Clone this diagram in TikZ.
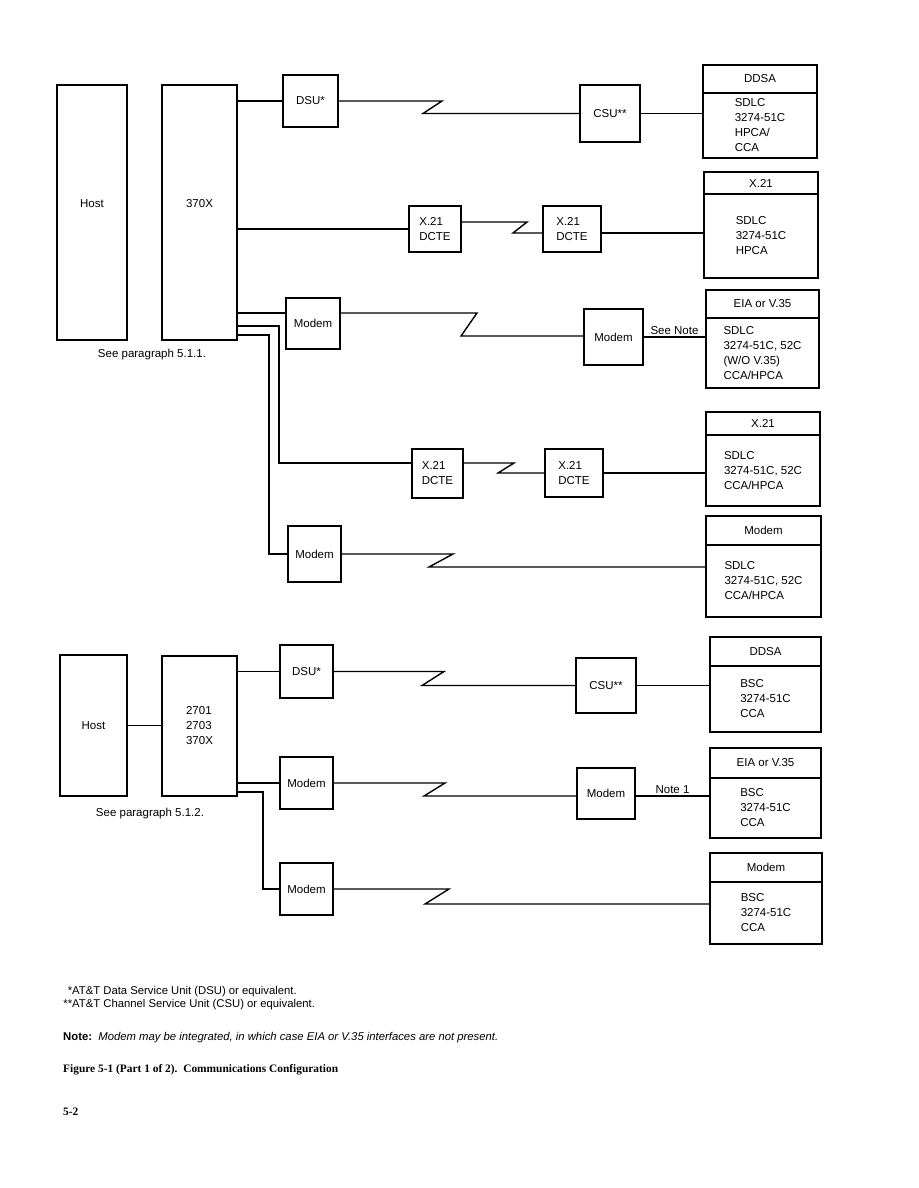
\documentclass[tikz,border=0pt]{standalone}
\usepackage{fontspec}
\setmainfont{Liberation Serif}
\setsansfont{Liberation Sans}
\usepackage{tikz}

\begin{document}
\begin{tikzpicture}[x=1pt, y=-1pt,
    every node/.style={font=\sffamily\fontsize{11.5}{15}\selectfont, inner sep=0pt},
    unit/.style={draw, line width=1.6pt, align=left},
    hdr/.style={draw, line width=1.6pt},
    body/.style={draw, line width=1.6pt, align=left},
    link/.style={line width=1.4pt},
    foot/.style={anchor=west, font=\sffamily\fontsize{11.3}{13}\selectfont}]
    \useasboundingbox (0,0) rectangle (918,1188);
    % first configuration
    \node (host1) [unit, minimum width=70pt, minimum height=255pt, text depth=18pt] at (92,212.5) {Host};
    \node (unit1) [unit, minimum width=75pt, minimum height=255pt, text depth=18pt] at (199.5,212.5) {370X};
    \node (see1) at (152,355) {See paragraph 5.1.1.};
    \node (dsuA) [unit, minimum width=55pt, minimum height=52pt] at (310.5,101) {DSU*};
    \node (csuA) [unit, minimum width=60pt, minimum height=57pt] at (610,113.5) {CSU**};
    \node (ddsaAh) [hdr, minimum width=114pt, minimum height=28pt] at (760,79) {DDSA};
    \node (ddsaAb) [body, minimum width=114pt, minimum height=65pt] at (760,125.5) {SDLC\\3274-51C\\HPCA/\\CCA};
    \node (dcteA) [unit, minimum width=52pt, minimum height=46pt] at (435,229) {X.21\\DCTE};
    \node (dcteB) [unit, minimum width=58pt, minimum height=46pt] at (572,229) {X.21\\DCTE};
    \node (x21Ah) [hdr, minimum width=114pt, minimum height=22pt] at (761,183) {X.21};
    \node (x21Ab) [body, minimum width=114pt, minimum height=84pt] at (761,236) {SDLC\\3274-51C\\HPCA};
    \node (modemA) [unit, minimum width=54pt, minimum height=51pt] at (313,323.5) {Modem};
    \node (modemB) [unit, minimum width=59pt, minimum height=56pt] at (613.5,337) {Modem};
    \node (eiaAh) [hdr, minimum width=113pt, minimum height=28pt] at (762.5,304) {EIA or V.35};
    \node (eiaAb) [body, minimum width=113pt, minimum height=70pt] at (762.5,353) {SDLC\\3274-51C, 52C\\(W/O V.35)\\CCA/HPCA};
    \node (dcteC) [unit, minimum width=51pt, minimum height=49pt] at (437.5,473.5) {X.21\\DCTE};
    \node (dcteD) [unit, minimum width=58pt, minimum height=48pt] at (574,473) {X.21\\DCTE};
    \node (x21Bh) [hdr, minimum width=114pt, minimum height=23pt] at (763,423.5) {X.21};
    \node (x21Bb) [body, minimum width=114pt, minimum height=71pt] at (763,470.5) {SDLC\\3274-51C, 52C\\CCA/HPCA};
    \node (modemC) [unit, minimum width=53pt, minimum height=56pt] at (314.5,554) {Modem};
    \node (modRAh) [hdr, minimum width=115pt, minimum height=29pt] at (763.5,530.5) {Modem};
    \node (modRAb) [body, minimum width=115pt, minimum height=72pt] at (763.5,581) {SDLC\\3274-51C, 52C\\CCA/HPCA};
    % second configuration
    \node (host2) [unit, minimum width=67pt, minimum height=141pt] at (93.5,725.5) {Host};
    \node (unit2) [unit, minimum width=75pt, minimum height=140pt] at (199.5,726) {2701\\2703\\370X};
    \node (see2) at (150,814) {See paragraph 5.1.2.};
    \node (dsuB) [unit, minimum width=53pt, minimum height=53pt] at (306.5,671.5) {DSU*};
    \node (csuB) [unit, minimum width=60pt, minimum height=55pt] at (606,685.5) {CSU**};
    \node (ddsaBh) [hdr, minimum width=111pt, minimum height=29pt] at (765.5,651.5) {DDSA};
    \node (ddsaBb) [body, minimum width=111pt, minimum height=66pt] at (765.5,699) {BSC\\3274-51C\\CCA};
    \node (modemD) [unit, minimum width=53pt, minimum height=52pt] at (306.5,783) {Modem};
    \node (modemE) [unit, minimum width=58pt, minimum height=51pt] at (606,793.5) {Modem};
    \node (eiaBh) [hdr, minimum width=111pt, minimum height=30pt] at (765.5,763) {EIA or V.35};
    \node (eiaBb) [body, minimum width=111pt, minimum height=60pt] at (765.5,808) {BSC\\3274-51C\\CCA};
    \node (modemF) [unit, minimum width=53pt, minimum height=52pt] at (306.5,889) {Modem};
    \node (modRBh) [hdr, minimum width=112pt, minimum height=29pt] at (766,867.5) {Modem};
    \node (modRBb) [body, minimum width=112pt, minimum height=62pt] at (766,913) {BSC\\3274-51C\\CCA};

    % line breaks and taps
    \coordinate (zA1) at (442,101);   \coordinate (zA2) at (423,113.5);
    \coordinate (zB1) at (527,222);   \coordinate (zB2) at (513,233);
    \coordinate (zC1) at (477,313);   \coordinate (zC2) at (461,336);
    \coordinate (zD1) at (514,463);   \coordinate (zD2) at (498,473);
    \coordinate (zE1) at (453,554);   \coordinate (zE2) at (429,567);
    \coordinate (zF1) at (444,671.5); \coordinate (zF2) at (422,685.5);
    \coordinate (zG1) at (445,783);   \coordinate (zG2) at (424,796);
    \coordinate (zH1) at (449,889);   \coordinate (zH2) at (425,904);
    \coordinate (tapC) at (279,326);  \coordinate (tapD) at (269,335);
    \coordinate (tapG) at (263,792);

    \draw[link] (dsuA.west -| unit1.east) -- (dsuA.west);
    \draw[link] (dsuA.east) -- (zA1) -- (zA2) -- (csuA.west);
    \draw[link] (csuA.east) -- (csuA.east -| ddsaAb.west);
    \draw[link] (dcteA.west -| unit1.east) -- (dcteA.west);
    \draw[link] (zB1 -| dcteA.east) -- (zB1) -- (zB2) -- (zB2 -| dcteB.west);
    \draw[link] (zB2 -| dcteB.east) -- (zB2 -| x21Ab.west);
    \draw[link] (zC1 -| unit1.east) -- (zC1 -| modemA.west);
    \draw[link] (zC1 -| modemA.east) -- (zC1) -- (zC2) -- (zC2 -| modemB.west);
    \draw[link] (modemB.east) -- node[above=2pt] {See Note} (modemB.east -| eiaAb.west);
    \draw[link] (tapC -| unit1.east) -- (tapC) |- (zD1 -| dcteC.west);
    \draw[link] (zD1 -| dcteC.east) -- (zD1) -- (zD2) -- (dcteD.west);
    \draw[link] (dcteD.east) -- (dcteD.east -| x21Bb.west);
    \draw[link] (tapD -| unit1.east) -- (tapD) |- (modemC.west);
    \draw[link] (modemC.east) -- (zE1) -- (zE2) -- (zE2 -| modRAb.west);

    \draw[link] (host2.east) -- (host2.east -| unit2.west);
    \draw[link] (dsuB.west -| unit2.east) -- (dsuB.west);
    \draw[link] (dsuB.east) -- (zF1) -- (zF2) -- (zF2 -| csuB.west);
    \draw[link] (csuB.east) -- (csuB.east -| ddsaBb.west);
    \draw[link] (modemD.west -| unit2.east) -- (modemD.west);
    \draw[link] (modemD.east) -- (zG1) -- (zG2) -- (zG2 -| modemE.west);
    \draw[link] (zG2 -| modemE.east) -- node[above=2pt] {Note 1} (zG2 -| eiaBb.west);
    \draw[link] (tapG -| unit2.east) -- (tapG) |- (modemF.west);
    \draw[link] (modemF.east) -- (zH1) -- (zH2) -- (zH2 -| modRBb.west);

    % notes
    \node (fnA) [foot] at (72,992) {\llap{*}AT\&T Data Service Unit (DSU) or equivalent.};
    \node (fnB) [foot] at (72,1005) {\llap{**}AT\&T Channel Service Unit (CSU) or equivalent.};
    \node (note) [foot] at (63,1038) {\textbf{Note:}\ \ \textit{Modem may be integrated, in which case EIA or V.35 interfaces are not present.}};
    \node (caption) [anchor=west, font=\rmfamily\bfseries\fontsize{11.4}{13}\selectfont] at (63,1070) {Figure 5-1 (Part 1 of 2).\ \ Communications Configuration};
    \node (page) [anchor=west, font=\rmfamily\bfseries\fontsize{11.4}{13}\selectfont] at (63,1112) {5-2};
\end{tikzpicture}
\end{document}
